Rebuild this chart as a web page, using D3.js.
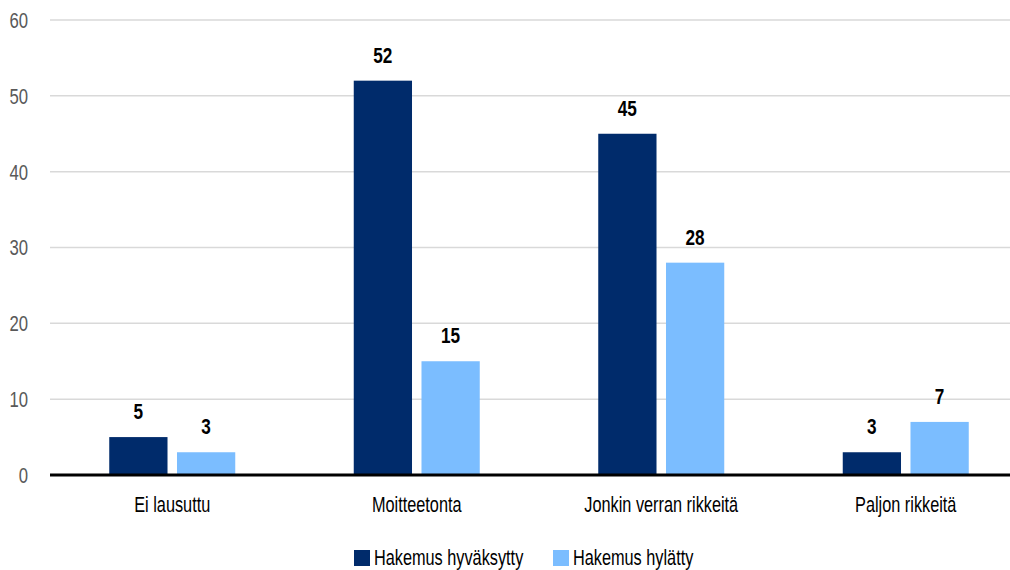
<!DOCTYPE html>
<html><head><meta charset="utf-8">
<script src="https://cdn.jsdelivr.net/npm/d3@7"></script>
<style>
body{margin:0;background:#fff;}
svg{display:block;font-family:"Liberation Sans",Arial,sans-serif;}
</style></head><body>
<svg id="c" width="1010" height="570"></svg>
<script>
const categories = ["Ei lausuttu","Moitteetonta","Jonkin verran rikkeitä","Paljon rikkeitä"];
const seriesNames = ["Hakemus hyväksytty","Hakemus hylätty"];
const approved = [5,52,45,3];
const rejected = [3,15,28,7];
const yTicks = [0,10,20,30,40,50,60];
const colors = ["#002b6b","#7bbdff"];
const FONT = '"Liberation Sans",Arial,sans-serif';
const SQUEEZE = 0.74;

function squeeze(sel, f){
  sel.each(function(){
    const L = this.getComputedTextLength();
    d3.select(this).attr("textLength", L*(f||SQUEEZE)).attr("lengthAdjust","spacingAndGlyphs");
  });
}

const svg = d3.select("#c");
const x = d3.scaleBand().domain(categories).range([50,1028]).padding(0);
const y = d3.scaleLinear().domain([0,60]).range([475,20]);
const x1 = d3.scaleBand().domain([0,1]).range([0,126]).paddingInner(0.14);

// gridlines
svg.append("g").selectAll("line").data(yTicks.filter(d=>d>0)).join("line")
  .attr("x1",50).attr("x2",1010).attr("y1",d=>y(d)).attr("y2",d=>y(d))
  .attr("stroke","#d9d9d9").attr("stroke-width",1.5);

// y tick labels
const yAxis = svg.append("g").attr("transform","translate(28,0)")
  .call(d3.axisLeft(y).tickValues(yTicks).tickSize(0).tickPadding(0));
yAxis.attr("font-family",FONT);
yAxis.select(".domain").remove();
yAxis.selectAll("text").attr("font-size",22).attr("fill","#595959")
  .attr("text-anchor","end").attr("dy","0.34em").call(squeeze, 0.76);

const data = categories.map((c,i)=>({c, vals:[approved[i],rejected[i]]}));
const g = svg.append("g").selectAll("g").data(data).join("g")
  .attr("transform",d=>`translate(${x(d.c)+x.bandwidth()/2-63},0)`);
g.selectAll("rect").data(d=>d.vals.map((v,k)=>({v,k}))).join("rect")
  .attr("x",d=>x1(d.k)).attr("width",x1.bandwidth())
  .attr("y",d=>y(d.v)).attr("height",d=>y(0)-y(d.v))
  .attr("fill",d=>colors[d.k]);
g.selectAll("text").data(d=>d.vals.map((v,k)=>({v,k}))).join("text")
  .attr("x",d=>x1(d.k)+x1.bandwidth()/2).attr("y",d=>y(d.v)-18)
  .attr("text-anchor","middle").attr("font-size",22).attr("font-weight","bold")
  .attr("fill","#000").text(d=>d.v).call(squeeze, 0.78);

// baseline
svg.append("line").attr("x1",50).attr("x2",1010).attr("y1",y(0)).attr("y2",y(0))
  .attr("stroke","#000").attr("stroke-width",3);

// x axis labels
const xAxis = svg.append("g").attr("transform",`translate(0,${y(0)})`)
  .call(d3.axisBottom(x).tickSize(0).tickPadding(0));
xAxis.attr("font-family",FONT);
xAxis.select(".domain").remove();
xAxis.selectAll("text").attr("font-size",22).attr("fill","#000")
  .attr("dy",0).attr("y",37).call(squeeze);

// legend
const legX = [354,553];
const leg = svg.append("g").selectAll("g").data(seriesNames).join("g")
  .attr("transform",(d,i)=>`translate(${legX[i]},550)`);
leg.append("rect").attr("width",16).attr("height",16).attr("fill",(d,i)=>colors[i]);
leg.append("text").attr("x",20).attr("y",15).attr("font-size",22).attr("fill","#000")
  .text(d=>d).call(squeeze);
</script></body></html>
